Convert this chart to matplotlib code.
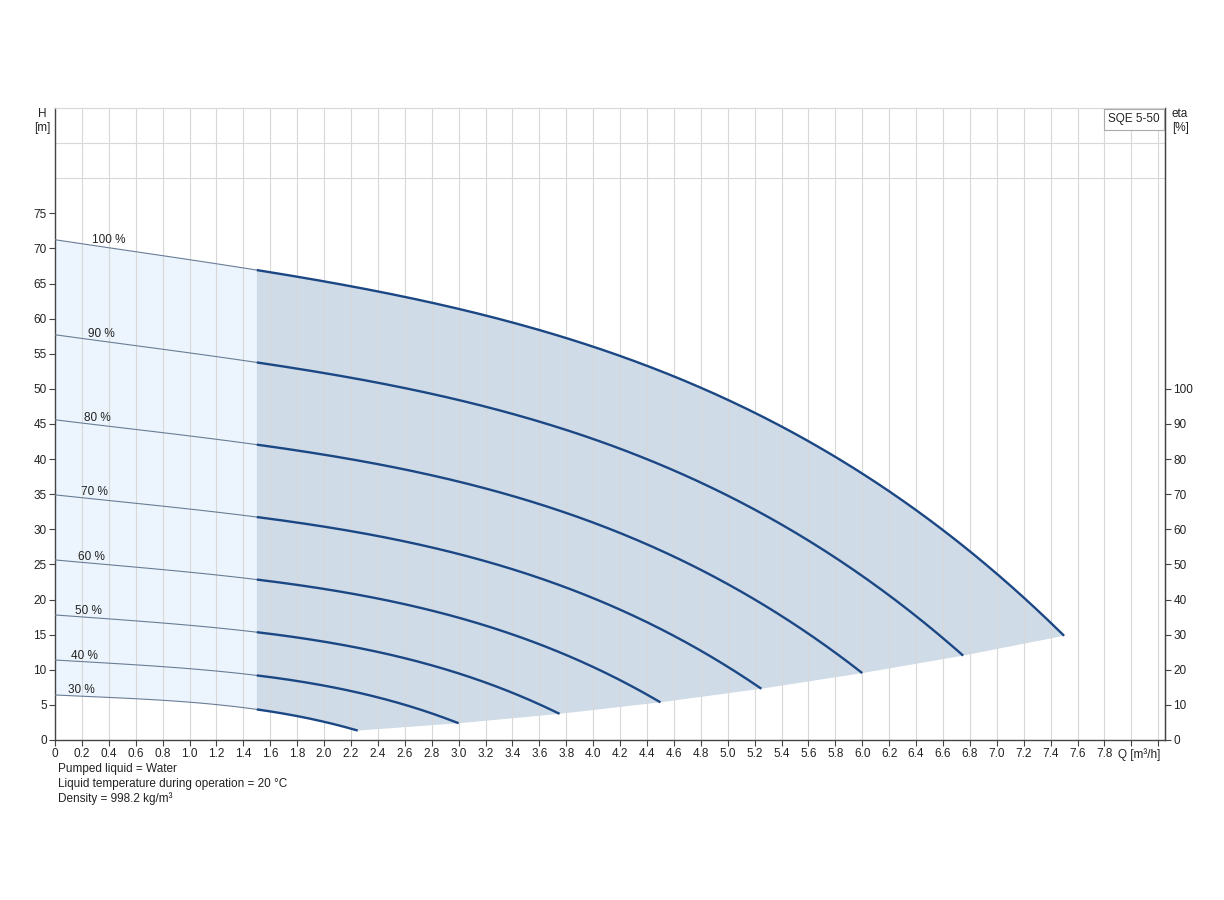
import numpy as np
import matplotlib
matplotlib.use('Agg')
from matplotlib import pyplot as plt

plt.rcParams['font.family'] = ['Liberation Sans', 'DejaVu Sans']

# curves: Q [m3/h], H [m]
speeds = ['100 %', '90 %', '80 %', '70 %', '60 %', '50 %', '40 %', '30 %']

q100 = [0, 0.5, 1.0, 1.5, 2.0, 2.5, 3.0, 3.5, 4.0, 4.5, 5.0, 5.5, 6.0, 6.25, 6.5, 6.75, 7.0, 7.25, 7.5]
h100 = [71.2, 69.8, 68.5, 67.0, 65.3, 63.4, 61.3, 58.9, 56.0, 52.6, 48.5, 43.7, 38.0, 34.8, 31.3, 27.5, 23.5, 19.4, 15.0]

q90 = [0, 0.5, 1.0, 1.5, 2.0, 2.5, 3.0, 3.5, 4.0, 4.5, 5.0, 5.5, 6.0, 6.4, 6.75]
h90 = [57.67, 56.42, 55.22, 53.81, 52.21, 50.41, 48.36, 45.88, 42.91, 39.29, 34.88, 29.57, 23.25, 17.5, 12.15]

q80 = [0, 0.5, 1.0, 1.5, 2.0, 2.5, 3.0, 3.5, 4.0, 4.5, 5.0, 5.5, 6.0]
h80 = [45.57, 44.47, 43.36, 42.07, 40.58, 38.85, 36.77, 34.21, 31.04, 27.06, 22.18, 16.29, 9.6]

q70 = [0, 0.5, 1.0, 1.5, 2.0, 2.5, 3.0, 3.5, 4.0, 4.5, 4.9, 5.25]
h70 = [34.89, 33.93, 32.93, 31.73, 30.33, 28.66, 26.49, 23.77, 20.22, 15.8, 11.52, 7.35]

q60 = [0, 0.5, 1.0, 1.5, 2.0, 2.5, 3.0, 3.5, 3.9, 4.2, 4.5]
h60 = [25.63, 24.81, 23.91, 22.82, 21.49, 19.75, 17.46, 14.36, 11.27, 8.46, 5.4]

q50 = [0, 0.5, 1.0, 1.5, 2.0, 2.5, 3.0, 3.25, 3.5, 3.75]
h50 = [17.8, 17.13, 16.33, 15.33, 14.0, 12.13, 9.5, 7.83, 5.88, 3.75]

q40 = [0, 0.5, 1.0, 1.5, 2.0, 2.4, 2.6, 2.8, 3.0]
h40 = [11.39, 10.84, 10.14, 9.19, 7.76, 6.08, 5.01, 3.76, 2.4]

q30 = [0, 0.5, 1.0, 1.25, 1.5, 1.75, 2.0, 2.1, 2.25]
h30 = [6.41, 5.98, 5.37, 4.94, 4.37, 3.59, 2.58, 2.12, 1.35]

curves_q = [q100, q90, q80, q70, q60, q50, q40, q30]
curves_h = [h100, h90, h80, h70, h60, h50, h40, h30]

# where the "100 %" ... "30 %" labels start
label_q = [0.275, 0.245, 0.215, 0.19, 0.17, 0.145, 0.12, 0.095]

q_min = 1.5  # start of the allowed range (thick part)

x_ticks = np.round(np.arange(0, 8.21, 0.2), 1)
x_labels = ['0'] + ['%.1f' % v for v in x_ticks[1:]]
x_labels[40] = ''
x_labels[41] = ''

notes = ['Pumped liquid = Water',
         'Liquid temperature during operation = 20 °C',
         'Density = 998.2 kg/m³']

line_col = '#1b4784'
thin_col = '#6a7d96'
grey_fill = '#cfdbe7'
light_fill = '#ecf5fd'
txt_col = '#222222'


def smooth(q, h):
    # smooth line through the read points
    return np.poly1d(np.polyfit(q, h, 4))


fits = [smooth(q, h) for q, h in zip(curves_q, curves_h)]

fig = plt.figure(figsize=(12.24, 9), dpi=100)
ax = fig.add_axes([55/1224, 1-740/900, 1110/1224, 632/900])

# light area 0..1.5 between the 100 % and 30 % curves
xa = np.linspace(0, q_min, 60)
ax.fill(np.r_[xa, xa[::-1]], np.r_[fits[0](xa), fits[-1](xa[::-1])],
        color=light_fill, lw=0, zorder=1)

# grey operating area
end_q = [q[-1] for q in curves_q]
end_h = [f(q) for f, q in zip(fits, end_q)]
xt = np.linspace(q_min, end_q[0], 200)
xb = np.linspace(q_min, end_q[-1], 60)[::-1]
poly_x = np.r_[xt, end_q[1:], xb]
poly_y = np.r_[fits[0](xt), end_h[1:], fits[-1](xb)]
ax.fill(poly_x, poly_y, color=grey_fill, lw=0, zorder=1)

for name, q, f, lq in zip(speeds, curves_q, fits, label_q):
    x_thin = np.linspace(0, q_min, 60)
    x_thick = np.linspace(q_min, q[-1], 200)
    ax.plot(x_thin, f(x_thin), color=thin_col, lw=0.8, zorder=3)
    ax.plot(x_thick, f(x_thick), color=line_col, lw=1.7, zorder=3,
            solid_capstyle='butt')
    ax.annotate(name, (lq, f(lq)), xytext=(0, -0.5),
                textcoords='offset points', fontsize=8.5, color=txt_col,
                va='bottom', ha='left')

ax.set_xlim(0, 8.25)
ax.set_ylim(0, 90)
ax.set_xticks(x_ticks)
ax.set_xticklabels(x_labels, fontsize=8.5, color=txt_col)
ax.annotate('Q [m³/h]', (8.06, 0), xycoords=('data', 'axes fraction'),
            xytext=(0, -6), textcoords='offset points',
            fontsize=8.5, color=txt_col, ha='center', va='top')
ax.set_yticks(np.arange(0, 76, 5))
ax.set_yticklabels([str(v) for v in range(0, 76, 5)], fontsize=8.5, color=txt_col)
ax.set_yticks(np.arange(0, 91, 5), minor=True)
ax.tick_params(axis='y', which='minor', length=0)
ax.tick_params(axis='both', which='major', length=4, width=0.8, color='#444444', pad=2)

ax.grid(True, which='major', axis='x', color='#d8d8d8', lw=0.8)
ax.grid(True, which='minor', axis='y', color='#d8d8d8', lw=0.8)
ax.set_axisbelow('line')

for s in ['left', 'bottom', 'right']:
    ax.spines[s].set_color('#444444')
    ax.spines[s].set_linewidth(1.0)
ax.spines['top'].set_color('#d8d8d8')
ax.spines['top'].set_linewidth(0.8)

ax2 = ax.twinx()
ax2.set_ylim(0, 180)
ax2.set_yticks(np.arange(0, 101, 10))
ax2.set_yticklabels([str(v) for v in range(0, 101, 10)], fontsize=8.5, color=txt_col)
ax2.tick_params(axis='y', length=4, width=0.8, color='#444444', pad=2)
for s in ['left', 'top', 'bottom']:
    ax2.spines[s].set_visible(False)
ax2.spines['right'].set_color('#444444')

fig.text(42/1224, 1-121/900, 'H\n[m]', fontsize=8.5, ha='center', va='center',
         color=txt_col, linespacing=1.3)
fig.text(1172/1224, 1-121/900, 'eta\n[%]', fontsize=8.5, ha='left', va='center',
         color=txt_col, linespacing=1.3)
ax.text(0.9955, 0.992, 'SQE 5-50', transform=ax.transAxes, fontsize=8.5,
        ha='right', va='top', color=txt_col, zorder=5,
        bbox=dict(boxstyle='square,pad=0.38', fc='white', ec='#aaaaaa', lw=0.8))

for i, t in enumerate(notes):
    fig.text(58/1224, 1-(769 + 15*i)/900, t, fontsize=8.5, ha='left', va='center',
             color=txt_col)

fig.savefig('out.png', dpi=100)
